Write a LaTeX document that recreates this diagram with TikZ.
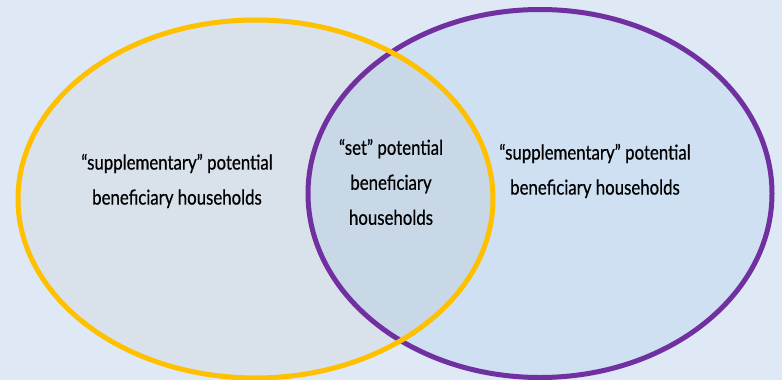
\documentclass[tikz,border=0pt]{standalone}
\usepackage{fontspec}
\setmainfont{Lato}[FakeStretch=0.82,FakeBold=0.6]
\begin{document}
\begin{tikzpicture}[x=1pt,y=-1pt,
  ring/.style={line width=5pt},
  lbl/.style={align=center,font=\fontsize{20.5}{35}\selectfont,text=black,inner sep=0pt}]
  \definecolor{bgblue}{HTML}{DEE9F5}
  \definecolor{setyellow}{HTML}{FFC000}
  \definecolor{setpurple}{HTML}{7030A0}
  \definecolor{fillgray}{HTML}{D9E1EA}
  \definecolor{fillblue}{HTML}{CEE0F1}
  \definecolor{fillmid}{HTML}{C8D8E6}
  % canvas
  \fill[bgblue] (0,0) rectangle (782,380);
  \useasboundingbox (0,0) rectangle (782,380);
  % fills
  \fill[fillgray] (255.5,199) ellipse [x radius=237.5, y radius=179];
  \fill[fillblue] (540,193.5) ellipse [x radius=232, y radius=184];
  \begin{scope}
    \clip (255.5,199) ellipse [x radius=237.5, y radius=179];
    \fill[fillmid] (540,193.5) ellipse [x radius=232, y radius=184];
  \end{scope}
  % outlines
  \draw[ring,setpurple] (540,193.5) ellipse [x radius=232, y radius=184];
  \draw[ring,setyellow] (255.5,199) ellipse [x radius=237.5, y radius=179];
  % labels
  \node[lbl] (left) at (177,181) {“supplementary” potential\\beneficiary households};
  \node[lbl] (mid) at (391,182) {“set” potential\\beneficiary\\households};
  \node[lbl] (right) at (595,171) {“supplementary” potential\\beneficiary households};
\end{tikzpicture}
\end{document}
